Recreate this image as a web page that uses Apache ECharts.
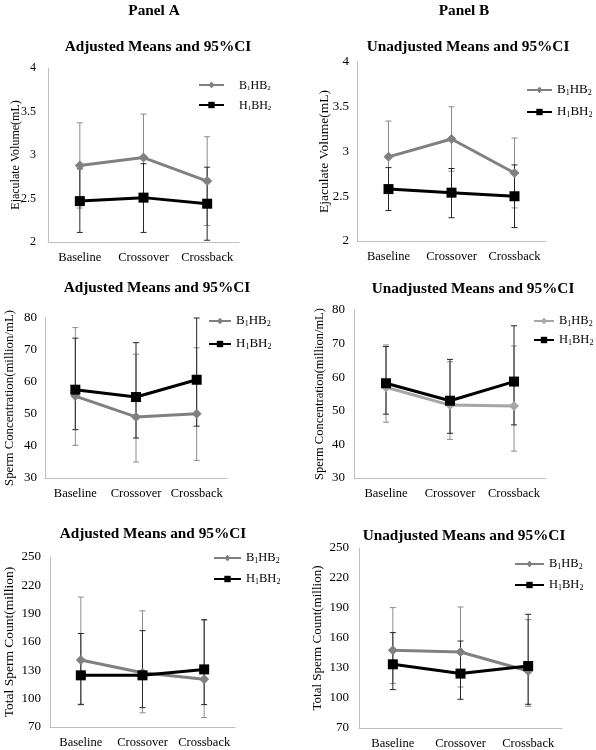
<!DOCTYPE html>
<html><head><meta charset="utf-8">
<script src="https://cdn.jsdelivr.net/npm/echarts@6/dist/echarts.min.js"></script>
<style>html,body{margin:0;padding:0;background:#fff}#c{width:596px;height:750px}</style>
</head><body><div id="c"></div>
<script>
const categories = ['Baseline', 'Crossover', 'Crossback'];
const seriesNames = ['B1HB2', 'H1BH2'];

// Panel A (adjusted) – Ejaculate volume
const volAdjB = [2.88, 2.97, 2.70];
const volAdjBLo = [2.39, 2.47, 2.19];
const volAdjBHi = [3.37, 3.47, 3.21];
const volAdjH = [2.47, 2.51, 2.44];
const volAdjHLo = [2.11, 2.11, 2.02];
const volAdjHHi = [2.84, 2.90, 2.86];
// Panel B (unadjusted) – Ejaculate volume
const volUnB = [2.94, 3.14, 2.76];
const volUnBLo = [2.54, 2.78, 2.37];
const volUnBHi = [3.34, 3.50, 3.15];
const volUnH = [2.58, 2.54, 2.50];
const volUnHLo = [2.34, 2.26, 2.15];
const volUnHHi = [2.82, 2.81, 2.85];
// Panel A – Sperm concentration
const concAdjB = [55.6, 49.1, 50.1];
const concAdjBLo = [40.2, 35.0, 35.5];
const concAdjBHi = [77.0, 68.7, 70.7];
const concAdjH = [57.6, 55.3, 60.7];
const concAdjHLo = [45.1, 42.5, 46.2];
const concAdjHHi = [73.7, 72.3, 80.0];
// Panel B – Sperm concentration
const concUnB = [57.0, 51.7, 51.4];
const concUnBLo = [46.6, 41.5, 38.0];
const concUnBHi = [69.6, 64.6, 69.3];
const concUnH = [58.2, 53.0, 58.7];
const concUnHLo = [49.0, 43.3, 45.8];
const concUnHHi = [69.1, 65.3, 75.3];
// Panel A – Total sperm count
const cntAdjB = [141.0, 127.5, 120.5];
const cntAdjBLo = [93.5, 85.0, 80.0];
const cntAdjBHi = [207.5, 193.0, 183.5];
const cntAdjH = [124.7, 124.7, 131.0];
const cntAdjHLo = [94.0, 90.5, 93.7];
const cntAdjHHi = [169.0, 172.0, 183.5];
// Panel B – Total sperm count
const cntUnB = [147.7, 146.0, 127.0];
const cntUnBLo = [114.4, 111.0, 91.7];
const cntUnBHi = [190.4, 191.0, 178.4];
const cntUnH = [133.7, 124.4, 132.0];
const cntUnHLo = [108.4, 98.7, 93.7];
const cntUnHHi = [165.4, 157.0, 183.7];

const volTicks = [2, 4, 0.5];
const concTicks = [30, 80, 10];
const cntTicks = [70, 250, 30];

const panelTitles = ['Adjusted Means and 95%CI', 'Unadjusted Means and 95%CI'];
const headers = ['Panel A', 'Panel B'];
const yNames = ['Ejaculate Volume(mL)', 'Sperm Concentration(million/mL)', 'Total Sperm Count(million)'];

const FONT = 'Liberation Serif';

const panels = [
  {B: volAdjB, BLo: volAdjBLo, BHi: volAdjBHi, H: volAdjH, HLo: volAdjHLo, HHi: volAdjHHi, ticks: volTicks, title: 0, yName: 0,
   grid: {left: 48, top: 68, width: 191, height: 174}, titleX: 158, titleY: 45,
   nameFs: 12, nameC: 16, tickFs: 12, labelMargin: 12,
   legend: {left: 198, row1: 86, row2: 107, iw: 25, pad: 10, fs: 12}, bColor: '#808080'},
  {B: volUnB, BLo: volUnBLo, BHi: volUnBHi, H: volUnH, HLo: volUnHLo, HHi: volUnHHi, ticks: volTicks, title: 1, yName: 0,
   grid: {left: 357, top: 62, width: 189, height: 179}, titleX: 468, titleY: 45,
   nameFs: 13.5, nameC: 325, tickFs: 13, labelMargin: 8,
   legend: {left: 526, row1: 90, row2: 112, iw: 25, pad: 0, fs: 13}, bColor: '#808080'},
  {B: concAdjB, BLo: concAdjBLo, BHi: concAdjBHi, H: concAdjH, HLo: concAdjHLo, HHi: concAdjHHi, ticks: concTicks, title: 0, yName: 1,
   grid: {left: 45, top: 318, width: 182, height: 160}, titleX: 157, titleY: 286,
   nameFs: 12.8, nameC: 10, tickFs: 13, labelMargin: 8,
   legend: {left: 208, row1: 321, row2: 344, iw: 22, pad: 0, fs: 13}, bColor: '#808080'},
  {B: concUnB, BLo: concUnBLo, BHi: concUnBHi, H: concUnH, HLo: concUnHLo, HHi: concUnHHi, ticks: concTicks, title: 1, yName: 1,
   grid: {left: 354, top: 310, width: 192, height: 168}, titleX: 473, titleY: 287,
   nameFs: 12.5, nameC: 320, tickFs: 13, labelMargin: 9,
   legend: {left: 533, row1: 321, row2: 340, iw: 20, pad: 0, fs: 12.5}, bColor: '#a6a6a6'},
  {B: cntAdjB, BLo: cntAdjBLo, BHi: cntAdjBHi, H: cntAdjH, HLo: cntAdjHLo, HHi: cntAdjHHi, ticks: cntTicks, title: 0, yName: 2,
   grid: {left: 50, top: 557, width: 185, height: 170}, titleX: 153, titleY: 532,
   nameFs: 13.5, nameC: 9.5, tickFs: 13, labelMargin: 9,
   legend: {left: 213, row1: 558, row2: 579, iw: 27, pad: 0, fs: 12.5}, bColor: '#808080'},
  {B: cntUnB, BLo: cntUnBLo, BHi: cntUnBHi, H: cntUnH, HLo: cntUnHLo, HHi: cntUnHHi, ticks: cntTicks, title: 1, yName: 2,
   grid: {left: 359, top: 548, width: 203, height: 180}, titleX: 464, titleY: 534,
   nameFs: 13, nameC: 318, tickFs: 13, labelMargin: 10,
   legend: {left: 514, row1: 564, row2: 585, iw: 29, pad: 0, fs: 12.5}, bColor: '#808080'}
];

function errRender(color) {
  return function (params, api) {
    const x = api.value(0);
    const p1 = api.coord([x, api.value(1)]);
    const p2 = api.coord([x, api.value(2)]);
    const w = 3;
    const st = {stroke: color, lineWidth: 1};
    return {type: 'group', children: [
      {type: 'line', shape: {x1: p1[0], y1: p1[1], x2: p2[0], y2: p2[1]}, style: st},
      {type: 'line', shape: {x1: p1[0] - w, y1: p1[1], x2: p1[0] + w, y2: p1[1]}, style: st},
      {type: 'line', shape: {x1: p2[0] - w, y1: p2[1], x2: p2[0] + w, y2: p2[1]}, style: st}
    ]};
  };
}

const option = {
  animation: false,
  backgroundColor: '#fff',
  title: [], grid: [], xAxis: [], yAxis: [], legend: [], series: []
};

headers.forEach((h, i) => {
  option.title.push({text: h, left: i === 0 ? 154 : 464, top: 3, textAlign: 'center', padding: 0,
    textStyle: {fontFamily: FONT, fontSize: 15.3, fontWeight: 'bold', color: '#000', lineHeight: 16}});
});

panels.forEach((p, i) => {
  const fs = p.legend.fs;
  const rich = {
    n: {fontFamily: FONT, fontSize: fs, color: '#000', lineHeight: 13, verticalAlign: 'bottom'},
    s: {fontFamily: FONT, fontSize: Math.round(fs * 0.62), color: '#000', lineHeight: 9, verticalAlign: 'bottom'}
  };
  option.title.push({text: panelTitles[p.title], left: p.titleX, top: p.titleY - 6, textAlign: 'center', padding: 0,
    textStyle: {fontFamily: FONT, fontSize: 15.3, fontWeight: 'bold', color: '#000', lineHeight: 16}});
  option.grid.push(Object.assign({containLabel: false}, p.grid));
  option.xAxis.push({type: 'category', gridIndex: i, data: categories, boundaryGap: true,
    axisLine: {lineStyle: {color: '#bfbfbf', width: 1}}, axisTick: {show: false},
    axisLabel: {fontFamily: FONT, fontSize: 12.5, color: '#000', margin: 9, interval: 0}});
  option.yAxis.push({type: 'value', gridIndex: i, min: p.ticks[0], max: p.ticks[1], interval: p.ticks[2],
    name: yNames[p.yName], nameLocation: 'middle', nameMoveOverlap: false,
    nameGap: p.grid.left - p.nameC - p.nameFs / 2, nameRotate: 90,
    nameTextStyle: {fontFamily: FONT, fontSize: p.nameFs, color: '#000'},
    axisLine: {show: true, lineStyle: {color: '#bfbfbf', width: 1}}, axisTick: {show: false}, splitLine: {show: false},
    axisLabel: {fontFamily: FONT, fontSize: p.tickFs, color: '#000', margin: p.labelMargin}});
  const nb = seriesNames[0] + '_' + i, nh = seriesNames[1] + '_' + i;
  option.legend.push({orient: 'vertical', left: p.legend.left, top: p.legend.row1 - 6.5, itemWidth: p.legend.iw, itemHeight: 8,
    itemGap: p.legend.row2 - p.legend.row1 - 13, padding: 0, data: [nb, nh], selectedMode: false,
    formatter: n => n.startsWith('B') ? '{n|B}{s|1}{n|HB}{s|2}' : '{n|H}{s|1}{n|BH}{s|2}',
    textStyle: {fontFamily: FONT, fontSize: fs, color: '#000', padding: [0, 0, 0, p.legend.pad], rich: rich}});
  option.series.push({type: 'custom', name: 'errB_' + i, xAxisIndex: i, yAxisIndex: i, z: 1,
    renderItem: errRender('#8c8c8c'), encode: {x: 0, y: [1, 2]},
    data: categories.map((c, k) => [k, p.BLo[k], p.BHi[k]])});
  option.series.push({type: 'custom', name: 'errH_' + i, xAxisIndex: i, yAxisIndex: i, z: 1,
    renderItem: errRender('#262626'), encode: {x: 0, y: [1, 2]},
    data: categories.map((c, k) => [k, p.HLo[k], p.HHi[k]])});
  option.series.push({type: 'line', name: nb, xAxisIndex: i, yAxisIndex: i, z: 2, data: p.B,
    symbol: 'diamond', symbolSize: 10, color: p.bColor,
    lineStyle: {color: p.bColor, width: 3}, itemStyle: {color: p.bColor}});
  option.series.push({type: 'line', name: nh, xAxisIndex: i, yAxisIndex: i, z: 3, data: p.H,
    symbol: 'rect', symbolSize: 10, color: '#000',
    lineStyle: {color: '#000', width: 3}, itemStyle: {color: '#000'}});
});

const chart = echarts.init(document.getElementById('c'), null, {renderer: 'canvas'});
chart.setOption(option);
</script>
</body></html>
